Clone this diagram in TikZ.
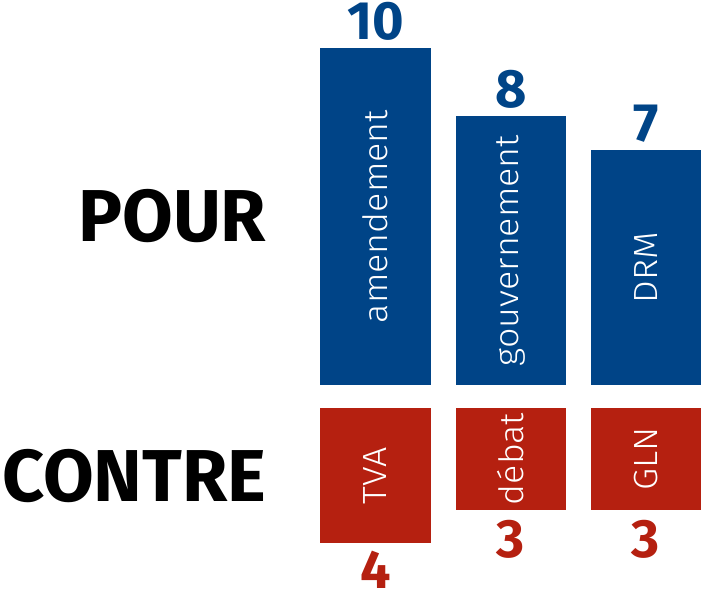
\documentclass[tikz,border=0pt]{standalone}
\usepackage{fontspec}
\setmainfont{Fira Sans}
\newfontfamily\barfont{Fira Sans}[UprightFont={* Light}, FakeStretch=1.07]
\usetikzlibrary{positioning}

\definecolor{pourblue}{RGB}{0,68,135}
\definecolor{contrered}{RGB}{181,32,16}

\begin{document}
\begin{tikzpicture}[x=1pt, y=-1pt,
        % styles
        side/.style = {
                anchor=east, inner sep=0pt,
                font=\fontsize{73.5}{80}\selectfont\bfseries
            },
        bar/.style = {
                rectangle, rotate=90, inner sep=0pt, minimum height=110.5pt,
                text=white, font=\barfont\fontsize{33.5}{36}\selectfont
            },
        pour/.style = {bar, fill=pourblue},
        contre/.style = {bar, fill=contrered},
        count/.style = {
                inner sep=0pt, font=\fontsize{54}{56}\selectfont\bfseries
            }]

    \useasboundingbox (0,0) rectangle (701,599);

    % bars (rotated: width runs along the bar)
    \node (amend) [pour, minimum width=337pt] at (375.5,216.5) {amendement};
    \node (gouv) [pour, minimum width=269pt] at (511,250.5) {gouvernement};
    \node (drm) [pour, minimum width=235pt] at (646,267.5) {DRM};
    \node (tva) [contre, minimum width=135pt] at (375.5,475.5) {TVA};
    \node (debat) [contre, minimum width=102pt] at (511,459) {débat};
    \node (gln) [contre, minimum width=102pt] at (646,459) {GLN};

    % side labels
    \node (pourlab) [side] at (266.5,216.5) {POUR};
    \node (contrelab) [side] at (266.5,476.5) {CONTRE};

    % numbers
    \node (n_amend) [count, text=pourblue, above=7pt of amend.east] {10};
    \node (n_gouv) [count, text=pourblue, above=7pt of gouv.east] {8};
    \node (n_drm) [count, text=pourblue, above=7pt of drm.east] {7};
    \node (n_tva) [count, text=contrered, below=8pt of tva.west] {4};
    \node (n_debat) [count, text=contrered, below=10pt of debat.west] {3};
    \node (n_gln) [count, text=contrered, below=10pt of gln.west] {3};

\end{tikzpicture}
\end{document}
